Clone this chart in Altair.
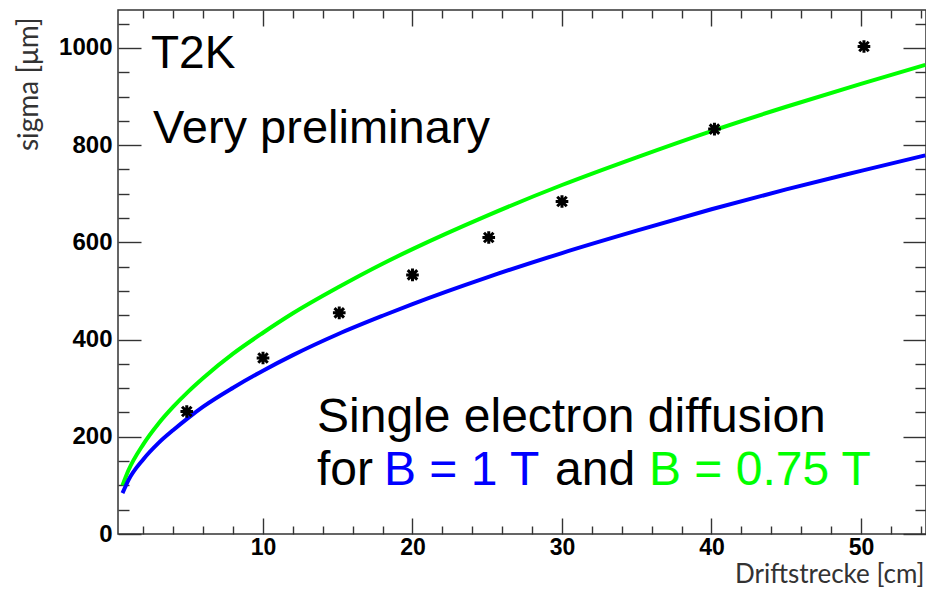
import altair as alt
import pandas as pd

# ---- data ----
curve_x = [0.6, 1, 2, 3, 4, 5, 6, 8, 10, 12, 15, 18, 20, 25, 30, 35, 40, 45, 50, 54.3]
green_y = [100, 131, 185, 227, 262, 293, 321, 371, 414, 454, 507, 556, 586, 655, 718, 775, 829, 879, 926, 965]
blue_y = [84, 111, 154, 187, 214, 239, 262, 301, 336, 368, 411, 449, 473, 528, 578, 624, 668, 709, 747, 779]

point_x = [4.9, 10, 15.1, 20, 25.1, 30, 40.2, 50.2]
point_y = [252, 362, 455, 533, 610, 684, 833, 1003]

x_major = [10, 20, 30, 40, 50]
x_minor = [2, 4, 6, 8, 12, 14, 16, 18, 22, 24, 26, 28, 32, 34, 36, 38, 42, 44, 46, 48, 52, 54]
y_major = [0, 200, 400, 600, 800, 1000]
y_minor = [50, 100, 150, 250, 300, 350, 450, 500, 550, 650, 700, 750, 850, 900, 950, 1050]

X_DOMAIN = [0.3, 54.35]
Y_DOMAIN = [0, 1078]

W, H = 808, 524
AX = "#333333"

curves = pd.DataFrame({
    "x": curve_x * 2,
    "y": green_y + blue_y,
    "series": ["B = 0.75 T"] * len(curve_x) + ["B = 1 T"] * len(curve_x),
})
points = pd.DataFrame({"x": point_x, "y": point_y})

xs = alt.Scale(domain=X_DOMAIN, nice=False, zero=False)
ys = alt.Scale(domain=Y_DOMAIN, nice=False, zero=False)


def tick_axis(orient, values, size, offset):
    return alt.Axis(orient=orient, values=values, tickSize=size, offset=offset,
                    labels=False, domain=False, grid=False, title=None,
                    tickColor=AX, tickWidth=1.4)


lines = alt.Chart(curves).mark_line(strokeWidth=4, interpolate="monotone").encode(
    x=alt.X("x:Q", scale=xs, axis=alt.Axis(
        orient="bottom", values=x_major, ticks=False, domain=False, grid=False,
        format="d",
        labelFont="Liberation Sans", labelFontWeight="bold", labelFontSize=23,
        labelColor="black", labelPadding=2,
        title="Driftstrecke [cm]", titleFont="Lato", titleFontSize=26,
        titleFontWeight="normal", titleColor=AX, titleAnchor="end",
        titleAlign="right", titleX=806, titleY=48, titleBaseline="alphabetic")),
    y=alt.Y("y:Q", scale=ys, axis=alt.Axis(
        orient="left", values=y_major, ticks=False, domain=False, grid=False,
        format="d",
        labelFont="Liberation Sans", labelFontWeight="bold", labelFontSize=24,
        labelColor="black", labelPadding=6,
        title="sigma [μm]", titleFont="Lato", titleFontSize=28,
        titleFontWeight="normal", titleColor=AX, titleAngle=270,
        titleAlign="right", titleBaseline="middle", titleX=-89, titleY=7)),
    color=alt.Color("series:N", legend=None,
                    scale=alt.Scale(domain=["B = 0.75 T", "B = 1 T"], range=["#00ff00", "#0000ff"])),
)

star = "M-1,0L1,0M0,-1L0,1M-0.75,-0.75L0.75,0.75M-0.75,0.75L0.75,-0.75"
pts = alt.Chart(points).mark_point(shape=star, filled=False, color="black", opacity=1,
                                   strokeWidth=3, size=160).encode(
    x=alt.X("x:Q", scale=xs, axis=tick_axis("top", x_major, 16, -H)),
    y=alt.Y("y:Q", scale=ys, axis=tick_axis("right", y_major, 23, -W)),
)


def ghost(xaxis, yaxis):
    return alt.Chart(points).mark_point(opacity=0).encode(
        x=alt.X("x:Q", scale=xs, axis=xaxis),
        y=alt.Y("y:Q", scale=ys, axis=yaxis),
    )


g1 = ghost(tick_axis("top", x_minor, 8, -H), tick_axis("right", y_minor, 11, -W))
g2 = ghost(tick_axis("bottom", x_major, 16, -H), tick_axis("left", y_major, 23, -W))
g3 = ghost(tick_axis("bottom", x_minor, 8, -H), tick_axis("left", y_minor, 11, -W))

label_rows = [
    ("T2K", 33, 58, "black", 46),
    ("Very preliminary", 35, 133, "black", 47),
    ("Single electron diffusion", 199, 422, "black", 48),
    ("for", 199, 475, "black", 48),
    ("B = 1 T", 266, 475, "#0000ff", 48),
    ("and", 437, 475, "black", 48),
    ("B = 0.75 T", 531, 475, "#00ff00", 48),
]
texts = [
    alt.Chart(pd.DataFrame({"t": [t]})).mark_text(
        color=c, font="Liberation Sans", fontSize=fs, align="left", baseline="alphabetic"
    ).encode(text="t:N", x=alt.value(px), y=alt.value(py))
    for t, px, py, c, fs in label_rows
]

chart = alt.layer(lines, pts, g1, g2, g3, *texts).resolve_axis(
    x="independent", y="independent"
).properties(
    width=W, height=H,
    autosize=alt.AutoSizeParams(type="none"),
    padding={"left": 110, "top": 2, "right": 0, "bottom": 53},
).configure_view(stroke=AX, strokeWidth=1.5)

chart.save("out.html", embed_options={"renderer": "svg", "actions": False})
